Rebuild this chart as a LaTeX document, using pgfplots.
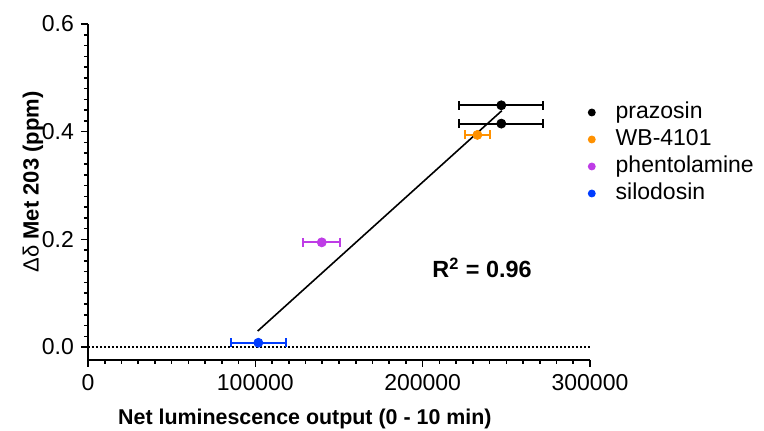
\documentclass[border=0pt]{standalone}
\usepackage{pgfplots}
\pgfplotsset{compat=1.18}
\usepackage{fontspec}
\setmainfont{Liberation Sans}
\definecolor{cOrange}{RGB}{255,145,0}
\definecolor{cPurple}{RGB}{190,60,230}
\definecolor{cBlue}{RGB}{0,60,255}
\begin{document}
\begin{tikzpicture}
\path[use as bounding box] (-44pt,-35.5pt) rectangle (338pt,180pt);
\begin{axis}[
 scale only axis, width=251pt, height=168pt,
 xmin=0, xmax=300000, ymin=-0.024, ymax=0.6,
 axis x line*=bottom, axis y line*=left,
 axis line style={line width=1pt},
 xtick={0,100000,200000,300000}, ytick={0,0.2,0.4,0.6},
 xticklabels={0,100000,200000,300000},
 yticklabels={0.0,0.2,0.4,0.6},
 minor x tick num=9, minor y tick num=9,
 tick align=outside, major tick length=3.5pt, minor tick length=2pt,
 every tick/.style={line width=0.8pt, black},
 scaled x ticks=false,
 ticklabel style={font=\fontsize{11.5}{13}\selectfont},
 xlabel={Net luminescence output (0 - 10 min)},
 xlabel style={at={(axis description cs:0.432,-0.176)}, anchor=center, font=\fontsize{10.7}{12}\selectfont\bfseries},
 ylabel={{\mdseries Δδ} Met 203 (ppm)},
 ylabel style={at={(axis description cs:-0.1096,0.53)}, anchor=center, font=\fontsize{11}{12}\selectfont\bfseries},
 clip=false,
 legend image code/.code={\draw[#1] plot coordinates {(0pt,0pt)}; \path (-2pt,0pt) (10.5pt,0pt);},
 legend style={draw=none, fill=none, at={(axis description cs:1,0.778)}, xshift=-1.5pt, anchor=north west,
   font=\fontsize{11.5}{13}\selectfont, row sep=0pt, inner sep=0pt,
   nodes={inner sep=1.25pt, text height=8.5pt, text depth=2.5pt}},
 legend cell align=left,
]
\addlegendimage{only marks, mark=*, mark size=1.75pt, black}
\addlegendentry{prazosin}
\addlegendimage{only marks, mark=*, mark size=1.75pt, cOrange}
\addlegendentry{WB-4101}
\addlegendimage{only marks, mark=*, mark size=1.75pt, cPurple}
\addlegendentry{phentolamine}
\addlegendimage{only marks, mark=*, mark size=1.75pt, cBlue}
\addlegendentry{silodosin}

\addplot[forget plot, black, line width=0.6pt, dash pattern=on 1pt off 1pt] coordinates {(0,0) (300000,0)};
\addplot[forget plot, black, line width=0.8pt] coordinates {(101400,0.0297) (247300,0.439)};

\addplot[forget plot, only marks, mark=*, mark size=2.25pt, black,
  error bars/.cd, x dir=both, x explicit, error mark=|, error bar style={line width=1pt},
  error mark options={mark size=2.25pt, line width=1pt}]
  coordinates {(247000,0.449) +- (25000,0) (247000,0.415) +- (25000,0)};
\addplot[forget plot, only marks, mark=*, mark size=2.25pt, cOrange,
  error bars/.cd, x dir=both, x explicit, error mark=|, error bar style={line width=1pt},
  error mark options={mark size=2.25pt, line width=1pt}]
  coordinates {(232700,0.394) +- (7500,0)};
\addplot[forget plot, only marks, mark=*, mark size=2.25pt, cPurple,
  error bars/.cd, x dir=both, x explicit, error mark=|, error bar style={line width=1pt},
  error mark options={mark size=2.25pt, line width=1pt}]
  coordinates {(139700,0.1945) +- (11000,0)};
\addplot[forget plot, only marks, mark=*, mark size=2.25pt, cBlue,
  error bars/.cd, x dir=both, x explicit, error mark=|, error bar style={line width=1pt},
  error mark options={mark size=2.25pt, line width=1pt}]
  coordinates {(101800,0.008) +- (16500,0)};

\node[font=\fontsize{11.7}{14}\selectfont\bfseries] at (axis cs:235500,0.147) {R\textsuperscript{2} = 0.96};
\end{axis}
\end{tikzpicture}
\end{document}
